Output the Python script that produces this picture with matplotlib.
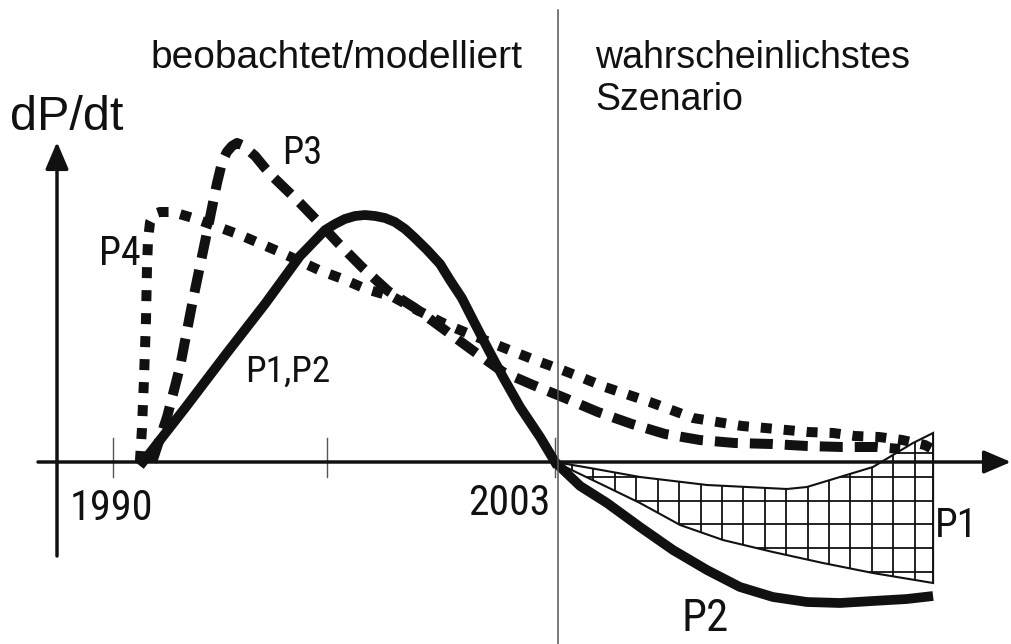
import numpy as np
import matplotlib
matplotlib.use('Agg')
import matplotlib.pyplot as plt
from matplotlib.patches import Polygon
from matplotlib import font_manager

# observed / modelled rate for P1,P2 (solid), then P2 scenario
p12_years = [1990.88, 1992.12, 1993.35, 1994.47, 1995.50, 1996.24, 1996.53, 1996.82, 1997.12,
             1997.41, 1997.71, 1998.00, 1998.29, 1998.59, 1998.88, 1999.24, 1999.62, 1999.91,
             2000.26, 2000.59, 2001.00, 2001.47, 2001.97, 2002.56, 2003.00]
p12_vals = [0.0, 0.54, 1.09, 1.58, 2.06, 2.32, 2.38, 2.43, 2.46,
            2.47, 2.46, 2.44, 2.40, 2.33, 2.24, 2.12, 1.98, 1.82,
            1.64, 1.42, 1.15, 0.85, 0.55, 0.25, 0.0]

p2_years = [2003.00, 2003.74, 2004.53, 2005.50, 2006.47, 2007.47, 2008.44, 2009.41,
            2010.41, 2011.38, 2012.35, 2013.35, 2014.12]
p2_vals = [0.0, -0.24, -0.41, -0.65, -0.88, -1.08, -1.25, -1.35,
           -1.40, -1.41, -1.39, -1.37, -1.34]

p3_years = [1991.15, 1991.59, 1991.97, 1992.35, 1992.76, 1993.06, 1993.21, 1993.35, 1993.50,
            1993.65, 1993.79, 1993.94, 1994.18, 1994.47, 1994.71, 1995.50, 1996.18, 1996.62,
            1997.32, 1998.09, 1998.88, 1999.76, 2000.56, 2001.47, 2002.35, 2003.29, 2004.26,
            2005.26, 2006.24, 2007.26, 2008.29, 2009.38, 2010.41, 2011.44, 2012.47, 2013.15]
p3_vals = [0.0, 0.45, 0.95, 1.62, 2.29, 2.79, 3.00, 3.10, 3.16,
           3.19, 3.17, 3.13, 3.06, 2.94, 2.85, 2.59, 2.35, 2.19,
           1.95, 1.71, 1.54, 1.32, 1.12, 0.90, 0.77, 0.64, 0.50,
           0.38, 0.28, 0.22, 0.19, 0.18, 0.16, 0.15, 0.15, 0.13]

p4_years = [1990.79, 1990.85, 1990.91, 1990.97, 1991.00, 1991.03, 1991.09, 1991.21, 1991.38,
            1991.76, 1992.35, 1992.94, 1993.74, 1994.91, 1996.12, 1996.76, 1997.44, 1998.24,
            1998.94, 1999.71, 2000.41, 2001.29, 2001.88, 2002.56, 2003.21, 2003.82, 2004.47,
            2005.79, 2007.06, 2008.50, 2009.18, 2010.44, 2011.18, 2011.82, 2012.53, 2013.21,
            2013.88, 2014.26]
p4_vals = [0.0, 0.32, 0.82, 1.42, 1.95, 2.22, 2.40, 2.48, 2.50,
           2.50, 2.44, 2.37, 2.27, 2.10, 1.91, 1.83, 1.73, 1.65,
           1.52, 1.39, 1.29, 1.17, 1.09, 1.00, 0.92, 0.84, 0.75,
           0.60, 0.44, 0.36, 0.34, 0.30, 0.29, 0.26, 0.25, 0.22,
           0.17, 0.10]

# P1 scenario band
p1_upper_years = [2003.00, 2004.03, 2005.50, 2007.47, 2009.82, 2010.41, 2011.38, 2012.35,
                  2012.94, 2013.53, 2014.12]
p1_upper_vals = [0.0, -0.06, -0.15, -0.23, -0.27, -0.25, -0.15, -0.05, 0.07, 0.19, 0.29]
p1_lower_years = [2003.00, 2004.53, 2005.50, 2006.68, 2007.94, 2009.41, 2010.88, 2012.35, 2014.12]
p1_lower_vals = [0.0, -0.25, -0.41, -0.63, -0.78, -0.90, -1.01, -1.11, -1.21]

tick_years = [1990, 1996.3, 2003]

W, H = 1012, 644
X0_PX, PX_PER_YEAR = 113, 34.0
Y0_PX, PX_PER_UNIT = 462, 100.0

def fx(px):
    return px / W

def fy(py):
    return 1 - py / H

# pick a narrow face if one is installed
installed = {f.name for f in font_manager.fontManager.ttflist}
narrow_face = None
for cand in ['Liberation Sans Narrow', 'Roboto Condensed', 'Open Sans Condensed',
             'Noto Sans Condensed', 'Noto Sans ExtraCondensed', 'DejaVu Sans Condensed']:
    if cand in installed:
        narrow_face = cand
        break

REG = ['Liberation Sans', 'DejaVu Sans']
NARROW = [narrow_face, 'Liberation Sans'] if narrow_face else REG
INK = '#111111'

fig = plt.figure(figsize=(W / 100, H / 100), dpi=100)
fig.patch.set_facecolor('white')
ax = fig.add_axes([0, 0, 1, 1])
ax.set_xlim(1990 - X0_PX / PX_PER_YEAR, 1990 + (W - X0_PX) / PX_PER_YEAR)
ax.set_ylim((Y0_PX - H) / PX_PER_UNIT, Y0_PX / PX_PER_UNIT)
ax.axis('off')

# separator between observed and scenario part
fig.add_artist(plt.Line2D([fx(558), fx(558)], [fy(10), fy(644)], color='#555555', lw=1.1))

# tick marks
for ty in tick_years:
    ax.plot([ty, ty], [0.24, -0.15], color='#555555', lw=1.0, zorder=2)

# hatched P1 band
band = list(zip(p1_upper_years, p1_upper_vals)) + list(zip(p1_lower_years[::-1], p1_lower_vals[::-1]))
poly = Polygon(band, closed=True, facecolor='white', edgecolor=INK, lw=1.5, zorder=3)
ax.add_patch(poly)
cols = np.arange(2003.5, 2014.1, 0.63)
rows = np.arange(0.09, -1.3, -0.238)
vl = ax.vlines(cols, -1.3, 0.35, color=INK, lw=1.3, zorder=3)
hl = ax.hlines(rows, 2003, 2014.2, color=INK, lw=1.3, zorder=3)
vl.set_clip_path(poly)
hl.set_clip_path(poly)

# axes with arrows
ax.annotate('', xy=(fx(1011), fy(462)), xytext=(fx(38), fy(462)), xycoords='figure fraction',
            arrowprops=dict(arrowstyle='-|>,head_length=0.75,head_width=0.32', lw=2.5,
                            color=INK, shrinkA=0, shrinkB=0, mutation_scale=22), zorder=4)
ax.annotate('', xy=(fx(57), fy(142)), xytext=(fx(57), fy(556)), xycoords='figure fraction',
            arrowprops=dict(arrowstyle='-|>,head_length=0.75,head_width=0.32', lw=2.5,
                            color=INK, shrinkA=0, shrinkB=0, mutation_scale=22), zorder=4)

# curves
ax.plot(p4_years, p4_vals, color=INK, lw=7.2, ls=(0, (1.1, 1.2)), dash_capstyle='butt',
        dash_joinstyle='round', zorder=5)
ax.plot(p3_years, p3_vals, color=INK, lw=7.2, ls=(0, (2.3, 1.2)), dash_capstyle='butt',
        dash_joinstyle='round', zorder=5)
ax.plot(p12_years, p12_vals, color=INK, lw=7.0, solid_joinstyle='round', zorder=6)
ax.plot(p2_years, p2_vals, color=INK, lw=7.0, solid_joinstyle='round', solid_capstyle='butt', zorder=6)

renderer = fig.canvas.get_renderer()

def label(px, py, s, size, family, width=None):
    t = fig.text(fx(px), fy(py), s, fontsize=size, family=family, color=INK,
                 ha='left', va='baseline')
    if width:
        # squeeze toward the reference width when the face runs wide
        w = t.get_window_extent(renderer).width
        if w > width:
            t.set_fontsize(size * (0.5 + 0.5 * width / w))
    return t

label(150, 68, 'beobachtet/modelliert', 28, REG)
label(595, 68, 'wahrscheinlichstes', 27, REG)
label(595, 110, 'Szenario', 27, REG)
label(10, 130, 'dP/dt', 35, REG)
label(282, 164, 'P3', 29, NARROW, 38)
label(99, 265, 'P4', 30, NARROW, 40)
label(245, 382, 'P1,P2', 27, NARROW, 85)
label(70, 520, '1990', 32, NARROW, 80)
label(468, 515, '2003', 32, NARROW, 77)
label(935, 537, 'P1', 30, NARROW, 42)
label(682, 631, 'P2', 33, NARROW, 46)

fig.savefig('out.png', dpi=100)
